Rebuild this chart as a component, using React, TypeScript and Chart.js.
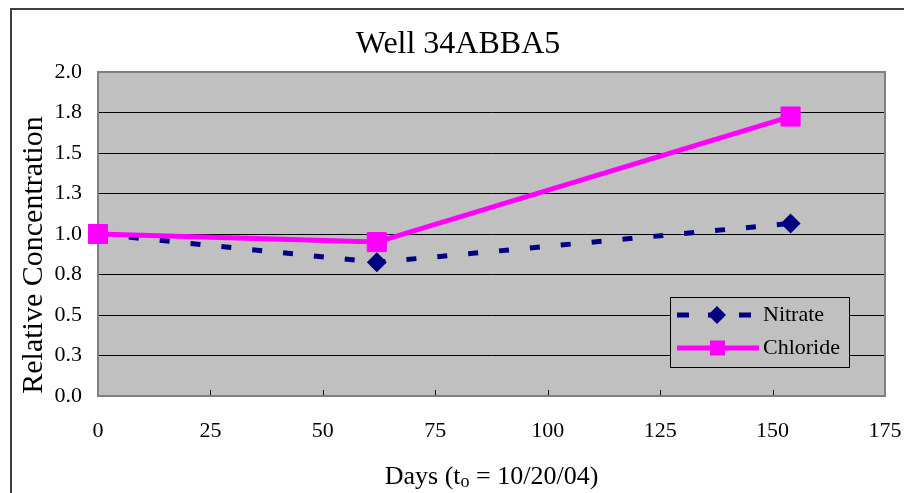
import React, { useEffect, useRef } from "react";
import { Chart, registerables } from "chart.js";

Chart.register(...registerables);

// ---- data ----
const chartTitle = "Well 34ABBA5";
const yAxisTitle = "Relative Concentration";
const xTitleMain = "Days (t";
const xTitleSub = "o";
const xTitleRest = " = 10/20/04)";
const days = [0, 62, 154];
const nitrate = [1.0, 0.825, 1.065];
const chloride = [1.0, 0.95, 1.725];
const seriesNames = ["Nitrate", "Chloride"];
const yTickLabels = ["0.0", "0.3", "0.5", "0.8", "1.0", "1.3", "1.5", "1.8", "2.0"];
const xTickLabels = ["0", "25", "50", "75", "100", "125", "150", "175"];

const SERIF = "'Liberation Serif', 'Times New Roman', Times, serif";
const NAVY = "#000080";
const MAGENTA = "#ff00ff";
const PLOT_BG = "#c0c0c0";

const decor = {
  id: "decor",
  beforeDraw(chart: any) {
    const { ctx, chartArea: a } = chart;
    ctx.save();
    ctx.fillStyle = "#ffffff";
    ctx.fillRect(0, 0, chart.width, chart.height);
    ctx.strokeStyle = "#404040";
    ctx.lineWidth = 2;
    ctx.strokeRect(11, 9, chart.width + 40, chart.height + 40);
    ctx.fillStyle = PLOT_BG;
    ctx.fillRect(a.left, a.top, a.right - a.left, a.bottom - a.top);
    ctx.restore();
  },
  beforeDatasetsDraw(chart: any) {
    const { ctx, chartArea: a } = chart;
    const xs = chart.scales.x;
    ctx.save();
    ctx.strokeStyle = "#000000";
    ctx.lineWidth = 1;
    xs.ticks.forEach((t: any) => {
      const px = Math.round(xs.getPixelForValue(t.value)) + 0.5;
      ctx.beginPath();
      ctx.moveTo(px, a.bottom);
      ctx.lineTo(px, a.bottom - 6);
      ctx.stroke();
    });
    ctx.strokeStyle = "#808080";
    ctx.lineWidth = 2;
    ctx.strokeRect(a.left, a.top, a.right - a.left, a.bottom - a.top);
    ctx.restore();
  },
  afterDraw(chart: any) {
    const { ctx, chartArea: a } = chart;
    ctx.save();
    ctx.fillStyle = "#000000";
    // y axis title
    ctx.font = `30px ${SERIF}`;
    ctx.textAlign = "center";
    ctx.textBaseline = "middle";
    ctx.translate(34, 255);
    ctx.rotate(-Math.PI / 2);
    ctx.fillText(yAxisTitle, 0, 0);
    ctx.setTransform(1, 0, 0, 1, 0, 0);

    // x axis title with subscript
    const mainFont = `26px ${SERIF}`;
    const subFont = `18px ${SERIF}`;
    ctx.textBaseline = "alphabetic";
    ctx.textAlign = "left";
    ctx.font = mainFont;
    const w1 = ctx.measureText(xTitleMain).width;
    const w3 = ctx.measureText(xTitleRest).width;
    ctx.font = subFont;
    const w2 = ctx.measureText(xTitleSub).width;
    const total = w1 + w2 + w3;
    const cx = (a.left + a.right) / 2;
    let x = cx - total / 2;
    const base = 484;
    ctx.font = mainFont;
    ctx.fillText(xTitleMain, x, base);
    x += w1;
    ctx.font = subFont;
    ctx.fillText(xTitleSub, x, base + 3);
    x += w2;
    ctx.font = mainFont;
    ctx.fillText(xTitleRest, x, base);

    // legend
    const ds = chart.data.datasets;
    const bx = 670, by = 297, bw = 179, bh = 70;
    ctx.fillStyle = PLOT_BG;
    ctx.fillRect(bx, by, bw, bh);
    ctx.strokeStyle = "#000000";
    ctx.lineWidth = 1;
    ctx.strokeRect(bx + 0.5, by + 0.5, bw, bh);

    const rows = [315, 348];
    const order = [1, 0]; // Nitrate, Chloride
    order.forEach((di, r) => {
      const d = ds[di];
      const y = rows[r];
      ctx.strokeStyle = d.borderColor;
      ctx.lineWidth = d.borderWidth;
      ctx.setLineDash(d.borderDash ? [12, 19] : []);
      ctx.beginPath();
      ctx.moveTo(677, y);
      ctx.lineTo(d.borderDash ? 751 : 759, y);
      ctx.stroke();
      ctx.setLineDash([]);
      ctx.fillStyle = d.pointBackgroundColor;
      ctx.beginPath();
      if (d.pointStyle === "rectRot") {
        const h = 9;
        ctx.moveTo(717, y - h);
        ctx.lineTo(717 + h, y);
        ctx.lineTo(717, y + h);
        ctx.lineTo(717 - h, y);
        ctx.closePath();
      } else {
        ctx.rect(710, y - 7.5, 15, 15);
      }
      ctx.fill();
      ctx.fillStyle = "#000000";
      ctx.font = `22px ${SERIF}`;
      ctx.textAlign = "left";
      ctx.textBaseline = "middle";
      ctx.fillText(d.label, 763, y);
    });
    ctx.restore();
  },
};

export default function App() {
  const ref = useRef<HTMLCanvasElement | null>(null);

  useEffect(() => {
    if (!ref.current) return;
    const chart = new Chart(ref.current, {
      type: "scatter",
      data: {
        datasets: [
          {
            label: seriesNames[1],
            data: days.map((d, i) => ({ x: d, y: chloride[i] })),
            showLine: true,
            borderColor: MAGENTA,
            borderWidth: 5,
            pointStyle: "rect",
            pointRadius: 13.5,
            pointBorderWidth: 1,
            pointBorderColor: MAGENTA,
            pointBackgroundColor: MAGENTA,
            clip: false,
            order: 0,
          } as any,
          {
            label: seriesNames[0],
            data: days.map((d, i) => ({ x: d, y: nitrate[i] })),
            showLine: true,
            borderColor: NAVY,
            borderWidth: 5,
            borderDash: [10, 21],
            pointStyle: "rectRot",
            pointRadius: 10,
            pointBorderWidth: 0,
            pointBackgroundColor: NAVY,
            clip: false,
            order: 1,
          } as any,
        ],
      },
      options: {
        animation: false,
        responsive: false,
        devicePixelRatio: 1,
        layout: { padding: { left: 31, right: 19, top: 0, bottom: 0 } },
        plugins: {
          legend: { display: false },
          tooltip: { enabled: false },
          title: {
            display: true,
            text: chartTitle,
            color: "#000000",
            font: { family: SERIF, size: 32, weight: "normal", lineHeight: 1.2 },
            padding: { top: 25, bottom: 8.6 },
          },
        },
        scales: {
          x: {
            type: "linear",
            min: 0,
            max: 175,
            ticks: {
              stepSize: 25,
              padding: 22,
              color: "#000000",
              font: { family: SERIF, size: 22, lineHeight: 1.2 },
              maxRotation: 0,
              callback: (v: any, i: number) => xTickLabels[i],
            },
            grid: { display: false, drawTicks: false },
            border: { display: false },
            afterFit: (s: any) => {
              s.height = 97;
              s.paddingLeft = 0;
              s.paddingRight = 0;
            },
          },
          y: {
            type: "linear",
            min: 0,
            max: 2,
            ticks: {
              stepSize: 0.25,
              padding: 16,
              color: "#000000",
              font: { family: SERIF, size: 22, lineHeight: 1.2 },
              callback: (v: any, i: number) => yTickLabels[i],
            },
            grid: { color: "#000000", lineWidth: 1, drawTicks: false },
            border: { display: false },
            afterFit: (s: any) => {
              s.width = 67;
            },
          },
        },
      } as any,
      plugins: [decor],
    });
    return () => chart.destroy();
  }, []);

  return (
    <div style={{ position: "absolute", left: 0, top: 0, width: 904, height: 493 }}>
      <canvas ref={ref} width={904} height={493} style={{ display: "block", width: 904, height: 493 }} />
    </div>
  );
}
